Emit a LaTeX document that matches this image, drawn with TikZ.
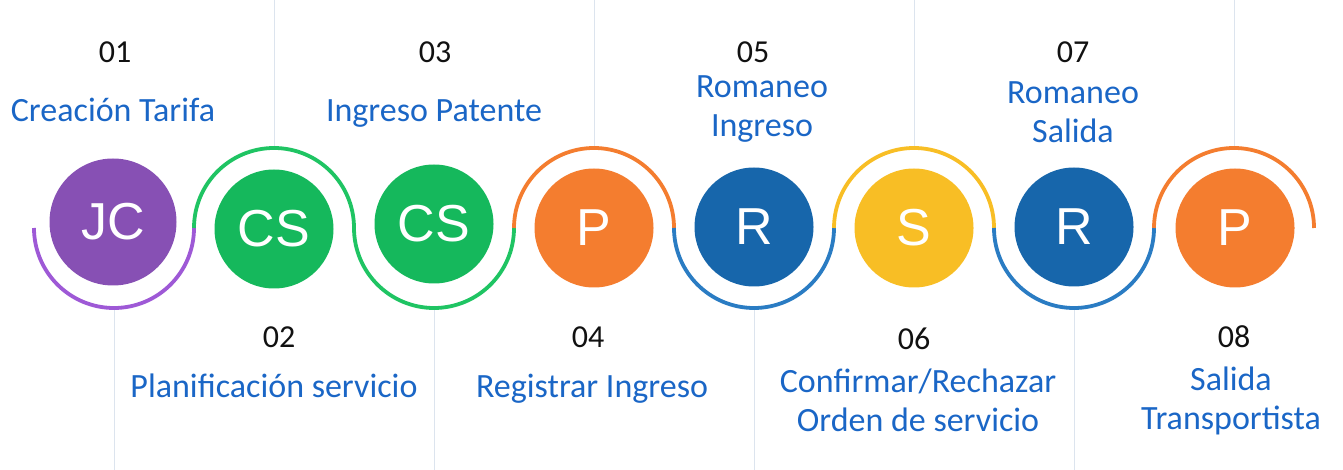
\documentclass[tikz,border=0pt]{standalone}
\usepackage{fontspec}
\setmainfont{Carlito}
\newfontfamily\badgefont{Liberation Sans}
\usetikzlibrary{positioning, calc}
\definecolor{stepblue}{HTML}{1A66C6}
\definecolor{numblack}{HTML}{111111}
\definecolor{guidegray}{HTML}{DCE4EE}
\definecolor{jcpurple}{HTML}{8750B4}
\definecolor{arcpurple}{HTML}{9E59D6}
\definecolor{csgreen}{HTML}{15B85C}
\definecolor{arcgreen}{HTML}{1FC463}
\definecolor{porange}{HTML}{F47D2F}
\definecolor{rblue}{HTML}{1766AB}
\definecolor{arcblue}{HTML}{2A7CC3}
\definecolor{syellow}{HTML}{F8BE25}

\begin{document}
\begin{tikzpicture}[
    x=1pt, y=1pt,
    badge/.style={circle, fill=#1, minimum size=119pt, inner sep=0pt, text=white, font=\badgefont\fontsize{52}{52}\selectfont},
    wave/.style={line width=3.8pt, draw=#1},
    guide/.style={draw=guidegray, line width=1pt},
    stepnum/.style={font=\fontsize{32}{38}\selectfont, text=numblack, anchor=base, inner sep=0pt},
    steplab/.style={font=\fontsize{34}{39}\selectfont, text=stepblue, align=center, anchor=base, inner sep=0pt},
]
\useasboundingbox (0,-242) rectangle (1343,228);

% Guide lines
\draw[guide] (114,-80) -- (114,-242);
\draw[guide] (274,80) -- (274,228);
\draw[guide] (434,-80) -- (434,-242);
\draw[guide] (594,80) -- (594,228);
\draw[guide] (754,-80) -- (754,-242);
\draw[guide] (914,80) -- (914,228);
\draw[guide] (1074,-80) -- (1074,-242);
\draw[guide] (1234,80) -- (1234,228);

% Badges
\node[badge=jcpurple, minimum size=127pt] (jc) at (113,6) {JC};
\node[badge=csgreen] (cs1) at (274,-1) {CS};
\node[badge=csgreen] (cs2) at (434,4) {CS};
\node[badge=porange] (p1) at (594,0) {P};
\node[badge=rblue] (r1) at (754,1) {R};
\node[badge=syellow] (s1) at (914,0) {S};
\node[badge=rblue] (r2) at (1074,1) {R};
\node[badge=porange] (p2) at (1235,0) {P};

% Wave
\coordinate (j0) at (34,0);
\coordinate (j1) at (194,0);
\coordinate (j2) at (354,0);
\coordinate (j3) at (514,0);
\coordinate (j4) at (674,0);
\coordinate (j5) at (834,0);
\coordinate (j6) at (994,0);
\coordinate (j7) at (1154,0);
\draw[wave=arcpurple] (j0) arc[start angle=180, end angle=360, radius=80];
\draw[wave=arcgreen] (j1) arc[start angle=180, end angle=0, radius=80];
\draw[wave=arcgreen] (j2) arc[start angle=180, end angle=360, radius=80];
\draw[wave=porange] (j3) arc[start angle=180, end angle=0, radius=80];
\draw[wave=arcblue] (j4) arc[start angle=180, end angle=360, radius=80];
\draw[wave=syellow] (j5) arc[start angle=180, end angle=0, radius=80];
\draw[wave=arcblue] (j6) arc[start angle=180, end angle=360, radius=80];
\draw[wave=porange] (j7) arc[start angle=180, end angle=0, radius=80];

% Top labels
\node[stepnum] (n01) at (115,165) {01};
\node[steplab] (l01) at (113,106) {Creación Tarifa};
\node[stepnum] (n03) at (435,165) {03};
\node[steplab] (l03) at (434,106) {Ingreso Patente};
\node[stepnum] (n05) at (753,165) {05};
\node[steplab] (l05) at (762,91) {Romaneo\\Ingreso};
\node[stepnum] (n07) at (1073,165) {07};
\node[steplab] (l07) at (1073,85) {Romaneo\\Salida};

% Bottom labels
\node[stepnum] (n02) at (279,-120) {02};
\node[steplab] (l02) at (274,-170) {Planificación servicio};
\node[stepnum] (n04) at (588,-120) {04};
\node[steplab] (l04) at (592,-170) {Registrar Ingreso};
\node[stepnum] (n06) at (914,-122) {06};
\node[steplab] (l06) at (918,-204) {Confirmar/Rechazar\\Orden de servicio};
\node[stepnum] (n08) at (1234,-120) {08};
\node[steplab] (l08) at (1231,-202) {Salida\\Transportista};

\end{tikzpicture}
\end{document}
